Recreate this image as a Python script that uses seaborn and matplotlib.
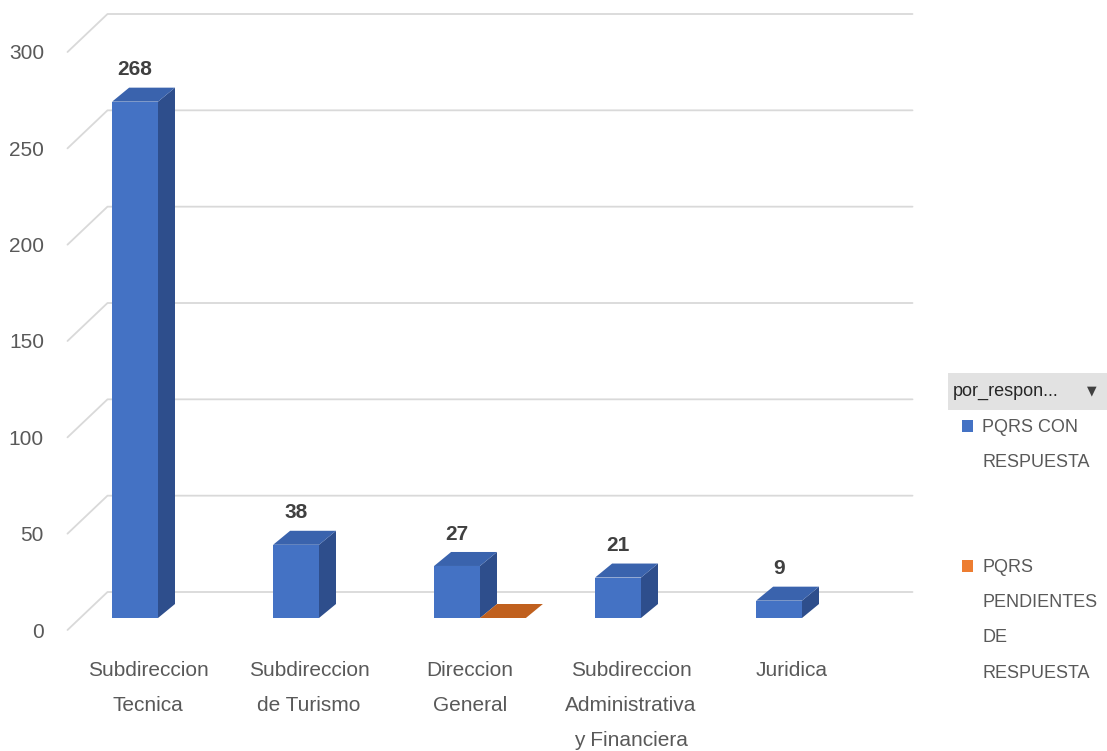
import pandas as pd
import seaborn as sns
import matplotlib.pyplot as plt
from matplotlib.patches import Polygon, Rectangle

# Datos del grafico
categorias = ["Subdireccion\nTecnica", "Subdireccion\nde Turismo", "Direccion\nGeneral",
              "Subdireccion\nAdministrativa\ny Financiera", "Juridica"]
con_respuesta = [268, 38, 27, 21, 9]
pendientes = [None, None, 0, None, None]
series = ["PQRS CON RESPUESTA", "PQRS PENDIENTES DE RESPUESTA"]
yticks = [0, 50, 100, 150, 200, 250, 300]

rows = []
for cat, v1, v2 in zip(categorias, con_respuesta, pendientes):
    rows.append((cat, series[0], v1))
    if v2 is not None:
        rows.append((cat, series[1], v2))
df = pd.DataFrame(rows, columns=["categoria", "serie", "valor"])

sns.set_style("white")
plt.rcParams["font.family"] = ["Liberation Sans", "DejaVu Sans"]

azul, azul_lado, azul_tope = "#4472C4", "#2E4E8C", "#3A63AD"
naranja, naranja_lado, naranja_tope = "#ED7D31", "#B3591C", "#C0601E"

W, H = 1107, 751
fig = plt.figure(figsize=(W / 100, H / 100), dpi=100)
# front plane: y=0 at px 630, y=300 at px 52; categories 161 px apart starting at 148
ax = fig.add_axes([67.5 / W, 121 / H, 805 / W, 578 / H])

sns.barplot(data=df, x="categoria", y="valor", hue="serie", hue_order=series,
            order=categorias, palette=[azul, naranja], width=0.57, saturation=1,
            legend=False, ax=ax, errorbar=None)
ax.set_xlim(-0.5, 4.5)
ax.set_ylim(0, 300)

px_x = 805 / 5.0
px_y = 578 / 300.0

# back wall gridlines (perspective)
gdx, gdy = 40 / px_x, 38 / px_y
for v in yticks:
    ax.plot([-0.5, -0.5 + gdx, 4.5 + gdx], [v, v + gdy, v + gdy],
            color="#D9D9D9", lw=1.3, clip_on=False, zorder=0)

# fake 3D faces for bars
ox, oy = 10 / px_x, 12 / px_y
dx, dy = 17 / px_x, 14 / px_y
for p in list(ax.patches):
    x0, w, h = p.get_x(), p.get_width(), p.get_height()
    fc = p.get_facecolor()
    es_azul = fc[2] > fc[0]
    lado = azul_lado if es_azul else naranja_lado
    tope = azul_tope if es_azul else naranja_tope
    p.set_x(x0 + ox)
    p.set_y(oy)
    p.set_edgecolor("none")
    p.set_zorder(2)
    xl, xr = x0 + ox, x0 + ox + w
    ax.add_patch(Polygon([(xr, oy), (xr + dx, oy + dy), (xr + dx, oy + h + dy), (xr, oy + h)],
                         closed=True, facecolor=lado, edgecolor="none", zorder=2, clip_on=False))
    ax.add_patch(Polygon([(xl, oy + h), (xr, oy + h), (xr + dx, oy + h + dy), (xl + dx, oy + h + dy)],
                         closed=True, facecolor=tope, edgecolor="none", zorder=2, clip_on=False))
    if es_azul:
        ax.annotate(f"{int(h)}", (xl + w / 2, oy + h + dy), xytext=(0, 6),
                    textcoords="offset points", ha="center", va="bottom",
                    fontsize=15, fontweight="bold", color="#404040", annotation_clip=False)

sns.despine(ax=ax, left=True, bottom=True)
ax.set_xlabel("")
ax.set_ylabel("")
ax.set_yticks(yticks)
ax.tick_params(axis="y", length=0, pad=17, labelsize=15, labelcolor="#595959")
ax.tick_params(axis="x", length=0, pad=22, labelsize=15, labelcolor="#595959")
for t in ax.get_xticklabels():
    t.set_linespacing(2.07)

# legend (Excel style)
fig.patches.append(Rectangle((948 / W, 1 - 410 / H), 159 / W, 37 / H, transform=fig.transFigure,
                             facecolor="#E2E2E2", edgecolor="none"))
fig.text(953 / W, 1 - 391 / H, "por_respon...", fontsize=13, color="#262626", va="center",
         ha="left")
fig.text(1092 / W, 1 - 391 / H, "\u25BC", fontsize=9, color="#404040", va="center",
         ha="center", family=["DejaVu Sans"])
fig.patches.append(Rectangle((962 / W, 1 - 432 / H), 11 / W, 12 / H, transform=fig.transFigure,
                             facecolor=azul, edgecolor="none"))
fig.text(982 / W, 1 - 419 / H, "PQRS CON\nRESPUESTA", fontsize=13, color="#595959",
         va="top", ha="left", linespacing=2.4)
fig.patches.append(Rectangle((962 / W, 1 - 572 / H), 11 / W, 12 / H, transform=fig.transFigure,
                             facecolor=naranja, edgecolor="none"))
fig.text(982 / W, 1 - 559 / H, "PQRS\nPENDIENTES\nDE\nRESPUESTA", fontsize=13, color="#595959",
         va="top", ha="left", linespacing=2.4)

fig.savefig("out.png", dpi=100)
